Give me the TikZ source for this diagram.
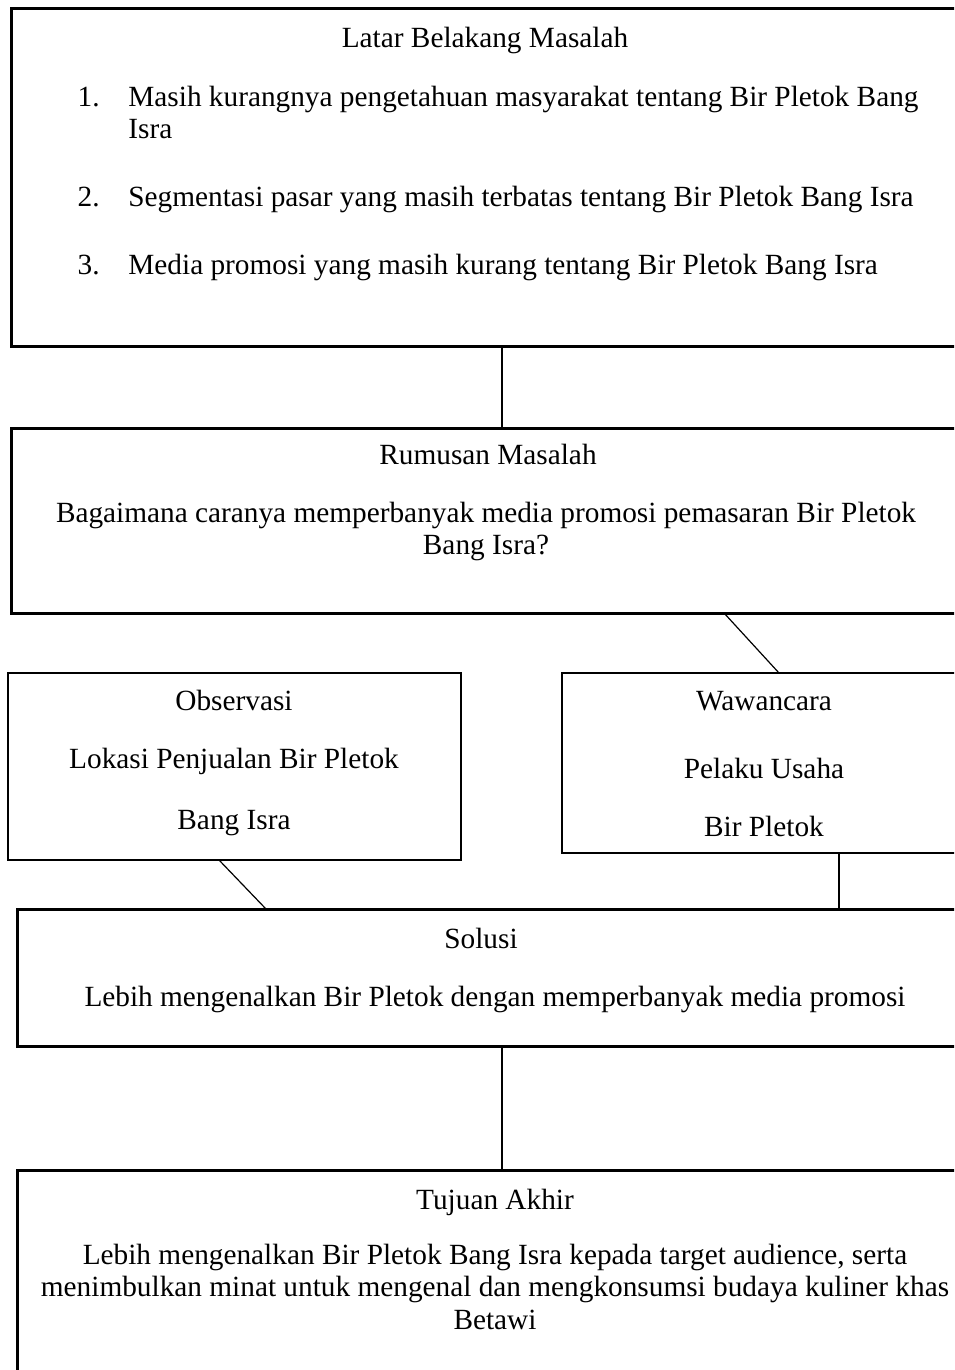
\documentclass[tikz,border=0pt]{standalone}
\usepackage{fontspec}
\setmainfont{Liberation Serif}
\begin{document}
\begin{tikzpicture}[x=0.5pt,y=-0.5pt,
  bx/.style={draw,line width=1.5pt,inner sep=0pt,outer sep=0pt,anchor=north west},
  bxthin/.style={bx,line width=1.1pt},
  conn/.style={line width=0.6pt},
  txt/.style={anchor=base,inner sep=0pt,font=\fontsize{14.65}{16.5}\selectfont},
  txtw/.style={txt,anchor=base west},
  txte/.style={txt,anchor=base east}]
\useasboundingbox (0,0) rectangle (954,1370);
\clip (0,0) rectangle (954,1370);
% boxes
\node[bx,minimum width=491pt,minimum height=168.5pt] (b1) at (11,9) {};
\node[bx,minimum width=491pt,minimum height=92.5pt] (b2) at (11,428) {};
\node[bxthin,minimum width=226.5pt,minimum height=93.5pt] (obs) at (8,673) {};
\node[bxthin,minimum width=277pt,minimum height=90pt] (waw) at (562,673) {};
\node[bx,minimum width=485pt,minimum height=68.5pt] (sol) at (17,909) {};
\node[bx,minimum width=485pt,minimum height=125pt] (tuj) at (17,1170) {};
% connectors
\draw[conn] (b1.south) -- (b2.north);
\draw[conn] ([xshift=356.5pt]b2.south west) -- ([xshift=108.5pt]waw.north west);
\draw[conn] ([xshift=105.5pt]obs.south west) -- ([xshift=124.5pt]sol.north west);
\draw[conn] ([xshift=138.5pt]waw.south west) -- ([xshift=138.5pt]waw.south west |- sol.north);
\draw[conn] (sol.south) -- (tuj.north);
% texts box 1
\node[txt] (t1) at (485,48) {Latar Belakang Masalah};
\node[txte] (n1) at (100,106) {1.};
\node[txtw] (i1a) at (128,106) {Masih kurangnya pengetahuan masyarakat tentang Bir Pletok Bang};
\node[txtw] (i1b) at (128,139) {Isra};
\node[txte] (n2) at (100,206) {2.};
\node[txtw] (i2) at (128,206) {Segmentasi pasar yang masih terbatas tentang Bir Pletok Bang Isra};
\node[txte] (n3) at (100,274) {3.};
\node[txtw] (i3) at (128,274) {Media promosi yang masih kurang tentang Bir Pletok Bang Isra};
% box 2
\node[txt] (t2) at (488,464) {Rumusan Masalah};
\node[txt] (r1) at (486,522) {Bagaimana caranya memperbanyak media promosi pemasaran Bir Pletok};
\node[txt] (r2) at (486,554) {Bang Isra?};
% observasi
\node[txt] (o1) at (234,710) {Observasi};
\node[txt] (o2) at (234,768) {Lokasi Penjualan Bir Pletok};
\node[txt] (o3) at (234,829) {Bang Isra};
% wawancara
\node[txt] (w1) at (764,710) {Wawancara};
\node[txt] (w2) at (764,778) {Pelaku Usaha};
\node[txt] (w3) at (764,836) {Bir Pletok};
% solusi
\node[txt] (s1) at (481,948) {Solusi};
\node[txt] (s2) at (495,1006) {Lebih mengenalkan Bir Pletok dengan memperbanyak media promosi};
% tujuan
\node[txt] (u1) at (495,1209) {Tujuan Akhir};
\node[txt] (u2) at (495,1264) {Lebih mengenalkan Bir Pletok Bang Isra kepada target audience, serta};
\node[txt] (u3) at (495,1296) {menimbulkan minat untuk mengenal dan mengkonsumsi budaya kuliner khas};
\node[txt] (u4) at (495,1329) {Betawi};
\end{tikzpicture}
\end{document}
